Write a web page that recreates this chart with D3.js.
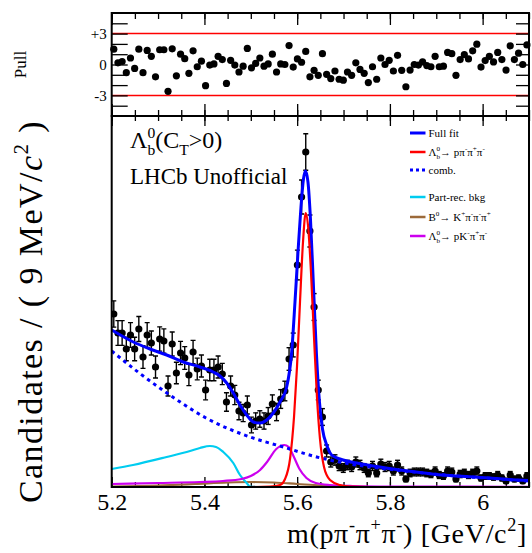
<!DOCTYPE html>
<html>
<head>
<meta charset="utf-8">
<script src="https://cdn.jsdelivr.net/npm/d3@7/dist/d3.min.js"></script>
<style>
  html, body { margin: 0; padding: 0; background: #fff; }
  svg { display: block; }
  text { font-family: "Liberation Serif", "Times New Roman", serif; fill: #000; }
</style>
</head>
<body>
<div id="chart"></div>
<script>
// Lambda_b -> p pi pi pi mass fit with pull panel, 9 MeV bins 5.2-6.1 GeV

// ---- data ----
const binLow = 5.2;
const binWidth = 0.009;

// candidates per bin (100 bins)
const counts = [
  173, 154, 154, 138, 152, 138, 158, 130, 152, 144, 120, 148, 146, 101, 143, 114, 134, 129, 112, 135,
  118, 121, 97, 117, 117, 120, 113, 85, 101, 92, 76, 74, 82, 62, 66, 68, 66, 71, 83, 75,
  88, 96, 128, 142, 222, 290, 335, 256, 180, 97, 70, 36, 25, 27, 21, 19, 22, 20, 25, 22,
  19, 14, 21, 14, 23, 20, 21, 16, 22, 16, 8, 14, 15, 15, 15, 14, 13, 16, 12, 11,
  16, 15, 8, 13, 14, 12, 14, 16, 9, 11, 11, 10, 12, 9, 6, 12, 8, 9, 6, 11
];

// pull per bin
const pulls = [
  1.49, 0.16, 0.29, -0.79, 0.63, -0.38, 1.49, -0.79, 1.37, 0.79, -1.2, 1.43, 1.43, -2.6, 1.52, -1.1, 1.0, 0.57, -0.86, 1.33,
  -0.22, 0.32, -2.06, -0.06, 0.06, 0.79, 0.48, -1.84, 0.41, -0.06, -0.73, -0.16, 1.56, -0.32, 0.1, 0.63, -0.16, 0.06, 1.0, -0.73,
  0.06, 0.0, 1.84, -0.25, 0.54, 0.22, 1.27, -1.2, -0.57, -1.05, 1.05, -0.95, -1.37, -0.63, -1.43, -1.52, -0.73, -1.05, 0.16, -0.48,
  -0.86, -1.75, -0.22, -1.43, 0.63, 0.0, 0.41, -0.63, 0.89, -0.57, -2.16, -0.54, 0.0, -0.06, 0.25, -0.1, -0.22, 0.79, -0.22, -0.16,
  1.17, 1.05, -1.05, 0.48, 0.95, 0.54, 1.33, 1.97, -0.25, 0.38, 0.79, 0.25, 1.17, 0.48, -0.54, 1.81, 0.48, 1.1, 0.0, 1.9
];

// fit curves: [mass GeV, candidates]
const fullFit = [
  [5.200, 157], [5.2466, 145], [5.2826, 138], [5.3186, 132], [5.3544, 125], [5.3904, 120],
  [5.4191, 115], [5.4336, 111], [5.4480, 104], [5.4622, 94], [5.4767, 82], [5.4911, 72],
  [5.5054, 65], [5.5198, 64], [5.5343, 67], [5.5485, 74], [5.5630, 85], [5.5774, 100],
  [5.5882, 135], [5.5953, 185], [5.6018, 235], [5.6082, 280], [5.6136, 308], [5.6179, 316],
  [5.6233, 305], [5.6287, 268], [5.6352, 200], [5.6417, 132], [5.6481, 85], [5.6546, 58],
  [5.6637, 42], [5.6744, 32], [5.6923, 28], [5.7284, 24], [5.7786, 20], [5.8390, 16],
  [5.9117, 12], [5.9835, 10], [6.0546, 7.5], [6.100, 6.5]
];

const signal = [
  [5.200, 0], [5.500, 0], [5.5414, 0.5], [5.5630, 2], [5.5738, 8], [5.5846, 28], [5.5932, 70],
  [5.5996, 120], [5.6061, 185], [5.6126, 245], [5.6184, 274], [5.6233, 262], [5.6298, 215],
  [5.6363, 150], [5.6427, 90], [5.6492, 48], [5.6579, 20], [5.6708, 7], [5.6923, 2],
  [5.7139, 0.5], [5.800, 0], [6.100, 0]
];

const comb = [
  [5.200, 136], [5.2595, 114], [5.3316, 90], [5.4034, 69], [5.4983, 50], [5.5701, 40],
  [5.6421, 30], [5.7139, 23], [5.8218, 16.5], [5.9296, 11.5], [6.0374, 8], [6.100, 6]
];

const partRec = [
  [5.200, 18], [5.246, 22], [5.3186, 30], [5.369, 36], [5.3904, 39], [5.412, 41],
  [5.4250, 40], [5.4407, 35], [5.4622, 24], [5.4767, 12], [5.4911, 4], [5.4983, 0.5],
  [5.520, 0], [6.100, 0]
];

const kstar = [
  [5.20, 0.5], [5.30, 1.5], [5.38, 3], [5.45, 4.5], [5.50, 5], [5.55, 4.5], [5.60, 3],
  [5.65, 1.5], [5.70, 0.5], [5.80, 0], [6.10, 0]
];

const misId = [
  [5.20, 3], [5.30, 4], [5.39, 5], [5.44, 6], [5.48, 8], [5.50, 11], [5.52, 17], [5.535, 25],
  [5.555, 38], [5.572, 42], [5.582, 40], [5.592, 31], [5.605, 18], [5.62, 9], [5.64, 4],
  [5.67, 2], [5.72, 1], [5.80, 0.5], [6.10, 0.2]
];

const majorTicks = [5.2, 5.4, 5.6, 5.8, 6.0];
const tickLabels = ['5.2', '5.4', '5.6', '5.8', '6'];
const pullTicks = [3, 0, -3];
const pullLabels = ['+3', '0', '-3'];

const legendEntries = [
  { label: 'Full fit', color: '#0000ff', width: 3, dash: null },
  { label: '\u039B_{b}^{0}\u2192 p\u03C0^{-}\u03C0^{+}\u03C0^{-}', color: '#ff0000', width: 2.5, dash: null },
  { label: 'comb.', color: '#0000ff', width: 3, dash: '3,3' },
  { label: 'Part-rec. bkg', color: '#00ccf0', width: 2.5, dash: null },
  { label: 'B^{0}\u2192 K^{+}\u03C0^{-}\u03C0^{-}\u03C0^{+}', color: '#9c6a3a', width: 2.5, dash: null },
  { label: '\u039B_{b}^{0}\u2192 pK^{-}\u03C0^{+}\u03C0^{-}', color: '#cc00ee', width: 2.5, dash: null }
];

// ---- layout ----
const W = 532, H = 553;
const left = 111.7, right = 529;
const pullTop = 13, split = 116, mainBottom = 487;

const svg = d3.select('#chart').append('svg')
  .attr('width', W).attr('height', H)
  .attr('viewBox', `0 0 ${W} ${H}`);

const x = d3.scaleLinear().domain([5.2, 6.1]).range([left, right]);
const y = d3.scaleLinear().domain([0, 371]).range([mainBottom, split]);
const yp = d3.scaleLinear().domain([-5, 5]).range([split, pullTop]);

const centres = counts.map((_, i) => binLow + (i + 0.5) * binWidth);

// minor tick positions every 50 MeV
const minorTicks = d3.range(0, 19).map((k) => +(5.2 + k * 0.05).toFixed(2));

// text with ROOT-like _{} and ^{} markup
function rich(textSel, str, fs) {
  const tokens = str.match(/(_\{[^}]*\}|\^\{[^}]*\}|[^_^]+)/g);
  let level = 0;
  let lastSub = null;
  tokens.forEach((tok) => {
    let kind = 'n', t = tok;
    if (tok.startsWith('_{')) { kind = 'sub'; t = tok.slice(2, -1); }
    else if (tok.startsWith('^{')) { kind = 'sup'; t = tok.slice(2, -1); }
    const target = kind === 'sub' ? 0.3 * fs : kind === 'sup' ? -0.42 * fs : 0;
    const ts = textSel.append('tspan')
      .attr('font-size', kind === 'n' ? fs : 0.65 * fs)
      .attr('dy', target - level)
      .text(t);
    if (kind === 'sup' && lastSub) ts.attr('dx', -lastSub.node().getComputedTextLength());
    lastSub = kind === 'sub' ? ts : null;
    level = target;
  });
}

// stretch a text to a given length with letter spacing
function spreadTo(textSel, target) {
  const len = textSel.node().getComputedTextLength();
  const n = textSel.text().length;
  textSel.attr('letter-spacing', Math.max(0, (target - len) / n).toFixed(2));
}

svg.append('defs').append('clipPath').attr('id', 'mainClip')
  .append('rect').attr('x', left).attr('y', split)
  .attr('width', right - left).attr('height', mainBottom - split);

// ---- pull panel ----
const pullG = svg.append('g');

pullG.selectAll('line.lim')
  .data([3, -3])
  .enter().append('line')
  .attr('x1', left).attr('x2', right)
  .attr('y1', (d) => yp(d)).attr('y2', (d) => yp(d))
  .attr('stroke', '#ff0000').attr('stroke-width', 1.5);

function tickAxis(g, axis) {
  g.call(axis);
  g.select('.domain').remove();
  g.selectAll('.tick line').attr('stroke', '#000').attr('stroke-width', 1.3);
}

// pull x ticks (top and bottom, inward)
tickAxis(pullG.append('g').attr('transform', `translate(0,${pullTop})`),
  d3.axisTop(x).tickValues(minorTicks).tickSizeInner(-6).tickSizeOuter(0).tickFormat(''));
tickAxis(pullG.append('g').attr('transform', `translate(0,${pullTop})`),
  d3.axisTop(x).tickValues(majorTicks).tickSizeInner(-12).tickSizeOuter(0).tickFormat(''));
tickAxis(pullG.append('g').attr('transform', `translate(0,${split})`),
  d3.axisBottom(x).tickValues(minorTicks).tickSizeInner(-6).tickSizeOuter(0).tickFormat(''));
tickAxis(pullG.append('g').attr('transform', `translate(0,${split})`),
  d3.axisBottom(x).tickValues(majorTicks).tickSizeInner(-12).tickSizeOuter(0).tickFormat(''));

// pull y ticks every unit
const pullMinor = d3.range(-4, 5);
tickAxis(pullG.append('g').attr('transform', `translate(${left},0)`),
  d3.axisLeft(yp).tickValues(pullMinor).tickSizeInner(-16).tickSizeOuter(0).tickFormat(''));
tickAxis(pullG.append('g').attr('transform', `translate(${right},0)`),
  d3.axisRight(yp).tickValues(pullMinor).tickSizeInner(-13).tickSizeOuter(0).tickFormat(''));

const pullAxis = pullG.append('g').attr('transform', `translate(${left},0)`)
  .call(d3.axisLeft(yp).tickValues(pullTicks).tickSize(0).tickPadding(5)
    .tickFormat((d, i) => pullLabels[i]));
pullAxis.select('.domain').remove();
pullAxis.selectAll('text').attr('font-size', 15).attr('font-family', '"Liberation Serif", serif');

pullG.selectAll('circle.pull')
  .data(pulls)
  .enter().append('circle')
  .attr('cx', (d, i) => x(centres[i]))
  .attr('cy', (d) => yp(d))
  .attr('r', 3.6)
  .attr('fill', '#000');

pullG.append('rect')
  .attr('x', left).attr('y', pullTop)
  .attr('width', right - left).attr('height', split - pullTop)
  .attr('fill', 'none').attr('stroke', '#000').attr('stroke-width', 2);

pullG.append('text')
  .attr('transform', `translate(26,${yp(0)}) rotate(-90)`)
  .attr('text-anchor', 'middle')
  .attr('font-size', 17)
  .text('Pull');

// ---- main panel ----
const mainG = svg.append('g');

tickAxis(mainG.append('g').attr('transform', `translate(0,${mainBottom})`),
  d3.axisBottom(x).tickValues(minorTicks).tickSizeInner(-5).tickSizeOuter(0).tickFormat(''));
tickAxis(mainG.append('g').attr('transform', `translate(0,${mainBottom})`),
  d3.axisBottom(x).tickValues(majorTicks).tickSizeInner(-10).tickSizeOuter(0).tickFormat(''));
tickAxis(mainG.append('g').attr('transform', `translate(0,${split})`),
  d3.axisTop(x).tickValues(minorTicks).tickSizeInner(-5).tickSizeOuter(0).tickFormat(''));
tickAxis(mainG.append('g').attr('transform', `translate(0,${split})`),
  d3.axisTop(x).tickValues(majorTicks).tickSizeInner(-10).tickSizeOuter(0).tickFormat(''));

const xAxis = mainG.append('g').attr('transform', `translate(0,${mainBottom})`)
  .call(d3.axisBottom(x).tickValues(majorTicks).tickSize(0).tickPadding(6)
    .tickFormat((d, i) => tickLabels[i]));
xAxis.select('.domain').remove();
xAxis.selectAll('text').attr('font-size', 24).attr('font-family', '"Liberation Serif", serif');

// data points with sqrt(N) errors
const pts = mainG.append('g').attr('clip-path', 'url(#mainClip)');
const pt = pts.selectAll('g.pt')
  .data(counts)
  .enter().append('g');
pt.append('line')
  .attr('x1', (d, i) => x(centres[i])).attr('x2', (d, i) => x(centres[i]))
  .attr('y1', (d) => y(d + Math.sqrt(d))).attr('y2', (d) => y(d - Math.sqrt(d)))
  .attr('stroke', '#000').attr('stroke-width', 1.4);
[1, -1].forEach((s) => {
  pt.append('line')
    .attr('x1', (d, i) => x(centres[i]) - 2.5).attr('x2', (d, i) => x(centres[i]) + 2.5)
    .attr('y1', (d) => y(d + s * Math.sqrt(d))).attr('y2', (d) => y(d + s * Math.sqrt(d)))
    .attr('stroke', '#000').attr('stroke-width', 1.4);
});
pt.append('circle')
  .attr('cx', (d, i) => x(centres[i]))
  .attr('cy', (d) => y(d))
  .attr('r', 3.6)
  .attr('fill', '#000');

// fit curves
const line = d3.line()
  .x((d) => x(d[0]))
  .y((d) => y(d[1]))
  .curve(d3.curveMonotoneX);

const curves = [
  { data: kstar, color: '#9c6a3a', width: 2.2, dash: null },
  { data: partRec, color: '#00ccf0', width: 2.2, dash: null },
  { data: misId, color: '#cc00ee', width: 2.2, dash: null },
  { data: comb, color: '#0000ff', width: 3, dash: '3.5,4' },
  { data: fullFit, color: '#0000ff', width: 3, dash: null },
  { data: signal, color: '#ff0000', width: 2.2, dash: null }
];

const curveG = mainG.append('g').attr('clip-path', 'url(#mainClip)');
curveG.selectAll('path')
  .data(curves)
  .enter().append('path')
  .attr('d', (c) => line(c.data))
  .attr('fill', 'none')
  .attr('stroke', (c) => c.color)
  .attr('stroke-width', (c) => c.width)
  .attr('stroke-dasharray', (c) => c.dash);

mainG.append('rect')
  .attr('x', left).attr('y', split)
  .attr('width', right - left).attr('height', mainBottom - split)
  .attr('fill', 'none').attr('stroke', '#000').attr('stroke-width', 2);

// labels inside the plot
rich(mainG.append('text').attr('x', 130).attr('y', 148), '\u039B_{b}^{0}(C_{T}>0)', 24);
mainG.append('text').attr('x', 130).attr('y', 184).attr('font-size', 23).text('LHCb Unofficial');

// legend
const legendY = [133, 152, 170, 197, 217, 236];
const leg = mainG.append('g');
legendEntries.forEach((e, i) => {
  leg.append('line')
    .attr('x1', 410).attr('x2', 425.5)
    .attr('y1', legendY[i]).attr('y2', legendY[i])
    .attr('stroke', e.color).attr('stroke-width', e.width)
    .attr('stroke-dasharray', e.dash);
  rich(leg.append('text').attr('x', 428.5).attr('y', legendY[i] + 3.8), e.label, 11);
});

// axis titles
const xt = svg.append('text').attr('x', 527).attr('y', 543).attr('text-anchor', 'end');
rich(xt, 'm(p\u03C0^{-}\u03C0^{+}\u03C0^{-}) [GeV/c^{2}]', 28);
spreadTo(xt, 240);

const yt = svg.append('text')
  .attr('transform', 'translate(42,120) rotate(-90)')
  .attr('text-anchor', 'end')
  .attr('font-size', 34);
yt.append('tspan').text('Candidates / ( 9 MeV/');
yt.append('tspan').attr('font-style', 'italic').text('c');
yt.append('tspan').attr('font-size', 21).attr('dy', -14).text('2');
yt.append('tspan').attr('dy', 14).text(' )');
spreadTo(yt, 383);
</script>
</body>
</html>
